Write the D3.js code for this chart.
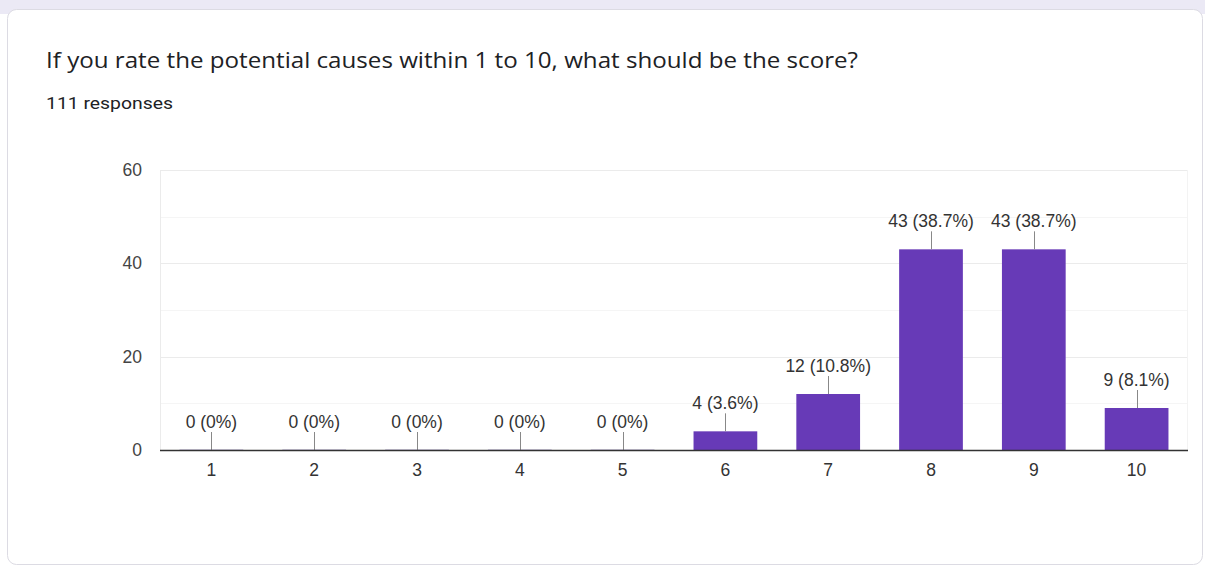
<!DOCTYPE html>
<html>
<head>
<meta charset="utf-8">
<script src="https://cdn.jsdelivr.net/npm/d3@7"></script>
<style>
  html, body { margin: 0; padding: 0; background: #ffffff; }
  svg { display: block; }
</style>
</head>
<body>
<svg id="chart" width="1205" height="567"></svg>
<script>
// Rating scale and how many responses each score received
const scores = ["1", "2", "3", "4", "5", "6", "7", "8", "9", "10"];
const counts = [0, 0, 0, 0, 0, 4, 12, 43, 43, 9];
const percents = ["0%", "0%", "0%", "0%", "0%", "3.6%", "10.8%", "38.7%", "38.7%", "8.1%"];
const yTicks = [0, 20, 40, 60];
const yMinorTicks = [10, 30, 50];
const titleText = "If you rate the potential causes within 1 to 10, what should be the score?";
const responsesText = "111 responses";

const svg = d3.select("#chart");

// Page band above the card
svg.append("rect").attr("x", 0).attr("y", 0).attr("width", 1205).attr("height", 14)
  .attr("fill", "#ebe9f5");

// Card
svg.append("rect")
  .attr("x", 7.5).attr("y", 9.5)
  .attr("width", 1195).attr("height", 555)
  .attr("rx", 9).attr("ry", 9)
  .attr("fill", "#ffffff")
  .attr("stroke", "#dcdbe3").attr("stroke-width", 1);

svg.append("text")
  .attr("x", 46).attr("y", 68)
  .attr("font-family", "'Open Sans', Roboto, Arial, sans-serif")
  .attr("font-size", 21)
  .attr("textLength", 812).attr("lengthAdjust", "spacingAndGlyphs")
  .attr("fill", "#202124")
  .text(titleText);

svg.append("text")
  .attr("x", 46).attr("y", 109)
  .attr("font-family", "Roboto, Arial, sans-serif")
  .attr("font-size", 16.5)
  .attr("textLength", 127).attr("lengthAdjust", "spacingAndGlyphs")
  .attr("fill", "#202124")
  .text(responsesText);

// Plot area
const plotLeft = 160, plotRight = 1188, plotTop = 170, plotBottom = 450;

const x = d3.scaleBand().domain(scores).range([plotLeft, plotRight]).paddingInner(0.38).paddingOuter(0.19);
const y = d3.scaleLinear().domain([0, 60]).range([plotBottom, plotTop]);

const font = "Arial, 'Liberation Sans', sans-serif";
const fs = 17.5;

// Minor gridlines
svg.append("g").selectAll("line").data(yMinorTicks).join("line")
  .attr("x1", plotLeft).attr("x2", plotRight)
  .attr("y1", d => Math.round(y(d)) + 0.5).attr("y2", d => Math.round(y(d)) + 0.5)
  .attr("stroke", "#f5f5f5");

// Major gridlines
svg.append("g").selectAll("line").data(yTicks.filter(d => d > 0)).join("line")
  .attr("x1", plotLeft).attr("x2", plotRight)
  .attr("y1", d => Math.round(y(d)) + 0.5).attr("y2", d => Math.round(y(d)) + 0.5)
  .attr("stroke", "#ebebeb");

// Plot frame sides
svg.append("line").attr("x1", plotLeft + 0.5).attr("x2", plotLeft + 0.5).attr("y1", plotTop).attr("y2", plotBottom)
  .attr("stroke", "#ebebeb");
svg.append("line").attr("x1", plotRight - 0.5).attr("x2", plotRight - 0.5).attr("y1", plotTop).attr("y2", plotBottom)
  .attr("stroke", "#f3f3f3");

// Y axis labels
const yAxis = d3.axisLeft(y).tickValues(yTicks).tickSize(0).tickPadding(18);
const gy = svg.append("g").attr("transform", `translate(${plotLeft},0)`).call(yAxis);
gy.select(".domain").remove();
gy.selectAll("text").attr("font-family", font).attr("font-size", fs).attr("fill", "#444444");

// Bars
svg.append("g").selectAll("rect").data(scores).join("rect")
  .attr("x", d => x(d))
  .attr("width", x.bandwidth())
  .attr("y", (d, i) => counts[i] > 0 ? y(counts[i]) : y(0) - 1)
  .attr("height", (d, i) => counts[i] > 0 ? y(0) - y(counts[i]) : 1)
  .attr("fill", (d, i) => counts[i] > 0 ? "#673ab7" : "#d7d2e6");

// Value labels with leader lines
const lab = svg.append("g");
scores.forEach((s, i) => {
  const cx = x(s) + x.bandwidth() / 2;
  const yTop = y(counts[i]);
  lab.append("line")
    .attr("x1", Math.round(cx) + 0.5).attr("x2", Math.round(cx) + 0.5)
    .attr("y1", yTop).attr("y2", yTop - 18)
    .attr("stroke", "#888888").attr("stroke-width", 1);
  lab.append("text")
    .attr("x", cx).attr("y", yTop - 22)
    .attr("text-anchor", "middle")
    .attr("font-family", font).attr("font-size", fs)
    .attr("fill", "#333333")
    .text(`${counts[i]} (${percents[i]})`);
});

// X axis
const xAxis = d3.axisBottom(x).tickSize(0).tickPadding(14);
const gx = svg.append("g").attr("transform", `translate(0,${plotBottom})`).call(xAxis);
gx.select(".domain").remove();
gx.selectAll("text").attr("font-family", font).attr("font-size", fs).attr("fill", "#333333");
svg.append("line").attr("x1", plotLeft).attr("x2", plotRight).attr("y1", plotBottom + 0.5).attr("y2", plotBottom + 0.5)
  .attr("stroke", "#333333").attr("stroke-width", 1.3);
</script>
</body>
</html>
